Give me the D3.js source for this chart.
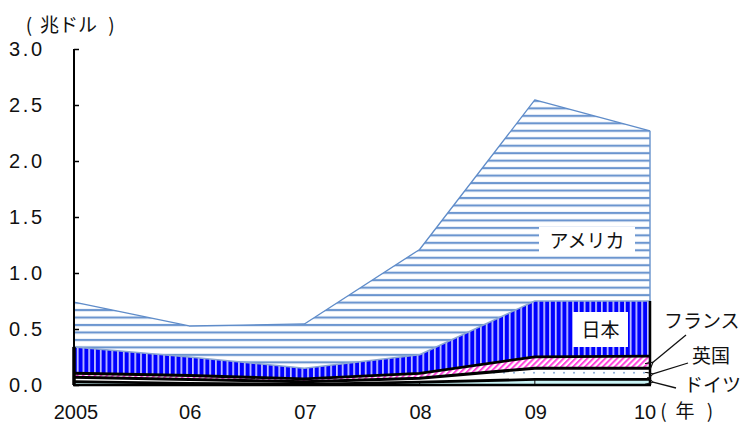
<!DOCTYPE html>
<html>
<head>
<meta charset="utf-8">
<script src="https://cdn.jsdelivr.net/npm/d3@7"></script>
<style>
  body { margin: 0; background: #fff; }
  svg { display: block; }
</style>
</head>
<body>
<svg id="chart" width="747" height="423"></svg>
<script>
// Years on the x axis and their printed labels
const years = [2005, 2006, 2007, 2008, 2009, 2010];
const yearLabels = ["2005", "06", "07", "08", "09", "10"];
// Series, stacked from the bottom up (trillion dollars)
const germany = [0.03, 0.015, 0.006, 0.025, 0.05, 0.05];
const uk      = [0.04, 0.035, 0.024, 0.035, 0.10, 0.10];
const france  = [0.035, 0.035, 0.024, 0.044, 0.102, 0.108];
const japan   = [0.235, 0.165, 0.096, 0.166, 0.498, 0.492];
const usa     = [0.40, 0.277, 0.395, 0.94, 1.795, 1.52];
const seriesNames = ["ドイツ", "英国", "フランス", "日本", "アメリカ"];
const yTicks = [0, 0.5, 1.0, 1.5, 2.0, 2.5, 3.0];

const rows = years.map((yr, i) => ({
  year: yr,
  "ドイツ": germany[i], "英国": uk[i], "フランス": france[i],
  "日本": japan[i], "アメリカ": usa[i]
}));

const svg = d3.select("#chart");
const x = d3.scaleLinear().domain([2005, 2010]).range([74, 650]);
const y = d3.scaleLinear().domain([0, 3]).range([385, 49]);

// Fill patterns
const defs = svg.append("defs");
const pUS = defs.append("pattern").attr("id", "p-us")
  .attr("patternUnits", "userSpaceOnUse").attr("width", 10).attr("height", 7.47);
pUS.append("rect").attr("width", 10).attr("height", 7.47).attr("fill", "#fff");
pUS.append("rect").attr("y", 2.7).attr("width", 10).attr("height", 2.2).attr("fill", "#7aa1d6");
pUS.append("rect").attr("y", 3.3).attr("width", 10).attr("height", 1).attr("fill", "#5f8cc9");

const pJP = defs.append("pattern").attr("id", "p-jp")
  .attr("patternUnits", "userSpaceOnUse").attr("width", 5.76).attr("height", 10);
pJP.append("rect").attr("width", 5.76).attr("height", 10).attr("fill", "#0000ff");
pJP.append("rect").attr("x", 2).attr("width", 1.6).attr("height", 10).attr("fill", "#d4d4ff");

const pFR = defs.append("pattern").attr("id", "p-fr")
  .attr("patternUnits", "userSpaceOnUse").attr("width", 4.2).attr("height", 4.2)
  .attr("patternTransform", "rotate(45)");
pFR.append("rect").attr("width", 4.2).attr("height", 4.2).attr("fill", "#fff");
pFR.append("rect").attr("width", 2).attr("height", 4.2).attr("fill", "#ff44dd");

const pUK = defs.append("pattern").attr("id", "p-uk")
  .attr("patternUnits", "userSpaceOnUse").attr("width", 10).attr("height", 11);
pUK.append("rect").attr("width", 10).attr("height", 11).attr("fill", "#fff");
pUK.append("circle").attr("cx", 4).attr("cy", 9.7).attr("r", 1).attr("fill", "#86acda");

const fills = {
  "ドイツ": "#c9f4f6", "英国": "url(#p-uk)", "フランス": "url(#p-fr)",
  "日本": "url(#p-jp)", "アメリカ": "url(#p-us)"
};
const edges = {
  "ドイツ": ["#000", 2.8], "英国": ["#000", 3], "フランス": ["#000", 2.8],
  "日本": ["#8aa6d2", 1.5], "アメリカ": ["#5f8cc9", 1.3]
};

const stacked = d3.stack().keys(seriesNames)(rows);
const area = d3.area()
  .x(d => x(d.data.year)).y0(d => y(d[0])).y1(d => y(d[1]));
const topLine = d3.line().x(d => x(d.data.year)).y(d => y(d[1]));

// Areas, top series first so the lower outlines sit above
const layers = svg.append("g");
stacked.slice().reverse().forEach(s => {
  layers.append("path").attr("d", area(s)).attr("fill", fills[s.key]);
});

// Thin vertical joins inside the bottom band
const gLayer = stacked[0];
svg.append("g").selectAll("line").data(gLayer.slice(1, -1)).join("line")
  .attr("x1", d => x(d.data.year)).attr("x2", d => x(d.data.year))
  .attr("y1", d => y(d[0])).attr("y2", d => y(d[1]))
  .attr("stroke", "#333").attr("stroke-width", 1.2);

// Outlines along the top of each series
stacked.slice().reverse().forEach(s => {
  svg.append("path").attr("d", topLine(s)).attr("fill", "none")
    .attr("stroke", edges[s.key][0]).attr("stroke-width", edges[s.key][1])
    .attr("stroke-linejoin", "round");
});

// Right-hand closing edges
const last = rows.length - 1;
const jpTop = stacked[3][last][1], usTop = stacked[4][last][1];
svg.append("line").attr("x1", x(2010)).attr("x2", x(2010))
  .attr("y1", y(jpTop)).attr("y2", y(usTop))
  .attr("stroke", "#6f98cf").attr("stroke-width", 1.5);
svg.append("line").attr("x1", x(2010)).attr("x2", x(2010))
  .attr("y1", y(0)).attr("y2", y(jpTop))
  .attr("stroke", "#000").attr("stroke-width", 2.5);
svg.append("line").attr("x1", x(2005)).attr("x2", x(2005))
  .attr("y1", y(0)).attr("y2", y(stacked[3][0][1]))
  .attr("stroke", "#000").attr("stroke-width", 3.5);

// Axes
const yAxis = d3.axisRight(y).tickValues(yTicks).tickSize(5).tickFormat("");
const gy = svg.append("g").attr("transform", `translate(${x(2005)},0)`).call(yAxis);
gy.select(".domain").attr("stroke", "#000").attr("stroke-width", 2)
  .attr("d", `M0,${y(3)}V${y(0)}`);
gy.selectAll(".tick line").attr("stroke", "#000").attr("stroke-width", 1.5);

svg.append("line").attr("x1", x(2005) - 1).attr("x2", x(2010) + 1)
  .attr("y1", y(0)).attr("y2", y(0)).attr("stroke", "#000").attr("stroke-width", 2.5);

const numFont = "'Liberation Sans', Arial, sans-serif";
const jpFont = "'Noto Sans CJK JP', sans-serif";

svg.append("g").selectAll("text").data(yTicks).join("text")
  .attr("x", 9).attr("y", d => y(d) + 7)
  .attr("font-family", numFont).attr("font-size", 20)
  .attr("letter-spacing", 2.6).attr("fill", "#111")
  .text(d => d.toFixed(1));

svg.append("g").selectAll("text").data(years).join("text")
  .attr("x", d => x(d) + (d === 2005 ? 2 : d === 2010 ? -5 : 1))
  .attr("y", 419).attr("text-anchor", "middle")
  .attr("font-family", numFont).attr("font-size", 20).attr("fill", "#111")
  .text((d, i) => yearLabels[i]);

// Unit captions with widely spaced brackets
function spacedCaption(parts, baseY, size) {
  const t = svg.append("text").attr("y", baseY)
    .attr("font-family", jpFont).attr("font-size", size).attr("fill", "#111")
    .attr("text-anchor", "middle");
  parts.forEach(p => t.append("tspan").attr("x", p[1]).text(p[0]));
}
spacedCaption([["(", 29], ["兆ドル", 68.5], [")", 111.5]], 32, 19);
spacedCaption([["(", 663.5], ["年", 685], [")", 710]], 418, 19);

// In-chart labels on white boxes
function boxLabel(txt, bx, by, bw, bh) {
  svg.append("rect").attr("x", bx).attr("y", by).attr("width", bw).attr("height", bh).attr("fill", "#fff");
  svg.append("text").attr("x", bx + bw / 2).attr("y", by + bh / 2 + 7)
    .attr("text-anchor", "middle").attr("font-family", jpFont).attr("font-size", 19)
    .attr("fill", "#111").text(txt);
}
boxLabel("アメリカ", 539, 227, 96, 27);
boxLabel("日本", 573, 312, 55, 35);

// Side labels with leader arrows
defs.append("marker").attr("id", "arrow").attr("viewBox", "0 0 10 10")
  .attr("refX", 1).attr("refY", 5).attr("markerWidth", 8).attr("markerHeight", 8)
  .attr("markerUnits", "userSpaceOnUse").attr("orient", "auto-start-reverse")
  .append("path").attr("d", "M10,0L1,5L10,10").attr("fill", "none")
  .attr("stroke", "#111").attr("stroke-width", 1.4);

const sideLabels = [
  { name: "フランス", tx: 664, ty: 328, from: [686, 335], layer: 2 },
  { name: "英国", tx: 692, ty: 363, from: [688, 363], layer: 1 },
  { name: "ドイツ", tx: 684, ty: 392, from: [676, 388], layer: 0 }
];
sideLabels.forEach(s => {
  const st = stacked[s.layer][last];
  const ty = y((st[0] + st[1]) / 2);
  svg.append("line").attr("x1", x(2010) + 3).attr("y1", ty)
    .attr("x2", s.from[0]).attr("y2", s.from[1])
    .attr("stroke", "#111").attr("stroke-width", 1.3)
    .attr("marker-start", "url(#arrow)");
  svg.append("text").attr("x", s.tx).attr("y", s.ty)
    .attr("font-family", jpFont).attr("font-size", 19).attr("fill", "#111")
    .text(s.name);
});
</script>
</body>
</html>
